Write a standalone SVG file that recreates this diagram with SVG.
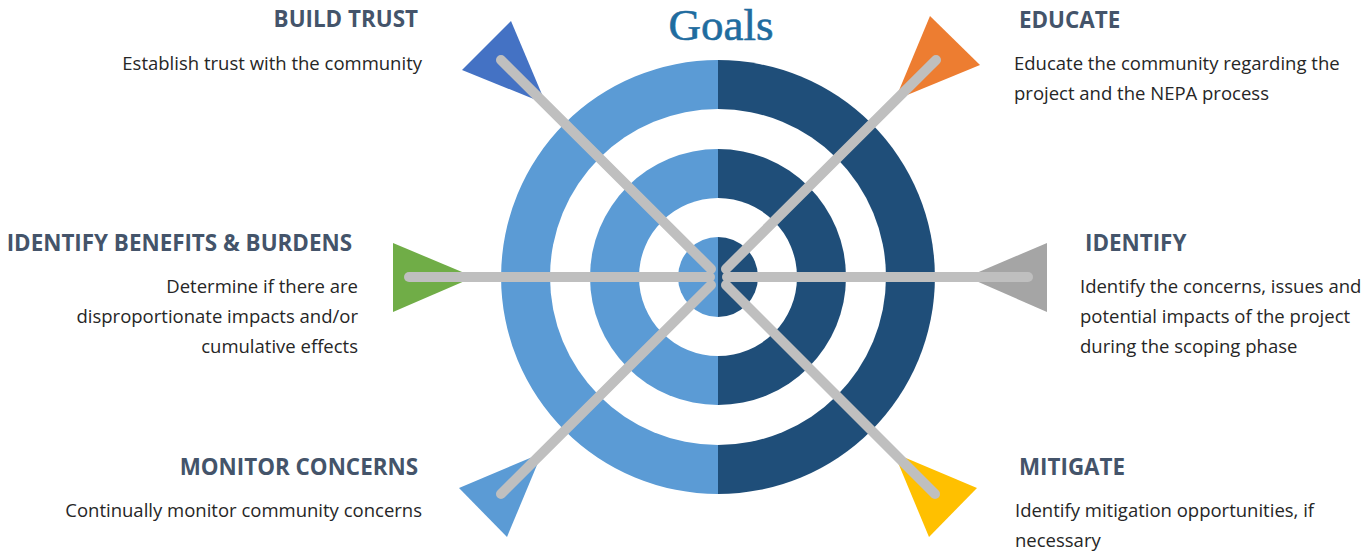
<svg xmlns="http://www.w3.org/2000/svg" width="1372" height="552" viewBox="0 0 1372 552">
<style>
.h{font-family:"Open Sans","Liberation Sans",sans-serif;font-weight:700;font-size:22.4px;fill:#44546A}
.b{font-family:"Open Sans","Liberation Sans",sans-serif;font-size:18.5px;fill:#262626}
.e{text-anchor:end}
.lt{fill:#5B9BD5}
.dk{fill:#1F4E79}
.wh{fill:#FFFFFF}
.shaft{stroke:#BFBFBF;stroke-width:10;stroke-linecap:round;fill:none}
</style>
<rect width="1372" height="552" fill="#FFFFFF"/>
<text x="721" y="40" text-anchor="middle" font-family="Liberation Serif,serif" font-size="45" fill="#1F6C9F" stroke="#1F6C9F" stroke-width="0.6">Goals</text>
<g id="target">
<path class="lt" d="M718,60 A217,217 0 0 0 718,494 Z"/>
<path class="dk" d="M718,60 A217,217 0 0 1 718,494 Z"/>
<circle class="wh" cx="718" cy="277" r="168"/>
<path class="lt" d="M718,149 A128,128 0 0 0 718,405 Z"/>
<path class="dk" d="M718,149 A128,128 0 0 1 718,405 Z"/>
<circle class="wh" cx="718" cy="277" r="79"/>
<path class="lt" d="M718,237 A40,40 0 0 0 718,317 Z"/>
<path class="dk" d="M718,237 A40,40 0 0 1 718,317 Z"/>
</g>
<g id="flags">
<polygon points="511,21 462,70 546,104" fill="#4472C4"/>
<polygon points="930,16 980,65 895,100" fill="#ED7D31"/>
<polygon points="393,243 393,312 474,277" fill="#70AD47"/>
<polygon points="1047,243 1047,312 967,277" fill="#A5A5A5"/>
<polygon points="542,453 459,488 507,537" fill="#5B9BD5"/>
<polygon points="894,453 977,488 929,537" fill="#FFC000"/>
</g>
<g id="connectors">
<line class="shaft" x1="501" y1="60" x2="711" y2="269"/>
<line class="shaft" x1="936" y1="60" x2="726" y2="269"/>
<line class="shaft" x1="409" y1="277" x2="710" y2="277"/>
<line class="shaft" x1="1028" y1="277" x2="727" y2="277"/>
<line class="shaft" x1="501" y1="494" x2="711" y2="285"/>
<line class="shaft" x1="935" y1="494" x2="726" y2="285"/>
</g>
<g id="build-trust">
<text class="h e" x="418" y="27">BUILD TRUST</text>
<text class="b e" x="422" y="70">Establish trust with the community</text>
</g>
<g id="educate">
<text class="h" x="1019" y="28">EDUCATE</text>
<text class="b" x="1014" y="70">Educate the community regarding the</text>
<text class="b" x="1014" y="100">project and the NEPA process</text>
</g>
<g id="identify-benefits">
<text class="h e" x="352" y="251">IDENTIFY BENEFITS &amp; BURDENS</text>
<text class="b e" x="358" y="293">Determine if there are</text>
<text class="b e" x="358" y="323">disproportionate impacts and/or</text>
<text class="b e" x="358" y="353">cumulative effects</text>
</g>
<g id="identify">
<text class="h" x="1085" y="251">IDENTIFY</text>
<text class="b" x="1080" y="293">Identify the concerns, issues and</text>
<text class="b" x="1080" y="323">potential impacts of the project</text>
<text class="b" x="1080" y="353">during the scoping phase</text>
</g>
<g id="monitor-concerns">
<text class="h e" x="418" y="475">MONITOR CONCERNS</text>
<text class="b e" x="422" y="517">Continually monitor community concerns</text>
</g>
<g id="mitigate">
<text class="h" x="1019" y="475">MITIGATE</text>
<text class="b" x="1015" y="517">Identify mitigation opportunities, if</text>
<text class="b" x="1015" y="547">necessary</text>
</g>
</svg>
